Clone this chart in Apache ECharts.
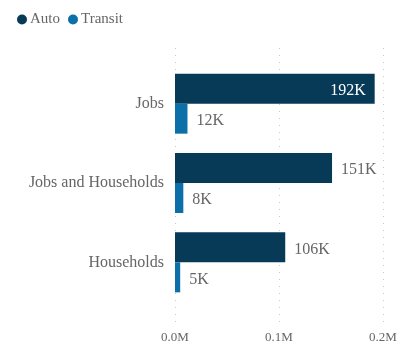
<!DOCTYPE html>
<html>
<head>
<meta charset="utf-8">
<script src="https://cdn.jsdelivr.net/npm/echarts@6/dist/echarts.min.js"></script>
<style>
  html, body { margin: 0; padding: 0; background: #fff; }
  #chart { width: 407px; height: 349px; }
</style>
</head>
<body>
<div id="chart"></div>
<script>
// Trips by access mode for each land-use type
const categories = ['Jobs', 'Jobs and Households', 'Households'];
const autoValues = [192000, 151000, 106000];
const transitValues = [12000, 8000, 5000];
const seriesNames = ['Auto', 'Transit'];
const xTicks = [0, 100000, 200000];

const FONT = "'Liberation Serif', 'Times New Roman', serif";
const TEXT = '#666';
const COLORS = ['#063A57', '#0B6FA8'];
const X_MAX = xTicks[xTicks.length - 1];

const fmtK = v => Math.round(v / 1000) + 'K';
const fmtM = v => (v / 1000000).toFixed(1) + 'M';

// Long bars keep their label inside the bar end
function toData(values) {
  return values.map(v => {
    if (v / X_MAX > 0.9) {
      return { value: v, label: { position: 'insideRight', color: '#fff', distance: 9 } };
    }
    return v;
  });
}

const labelStyle = {
  show: true,
  position: 'right',
  distance: 9,
  offset: [0, 2],
  fontFamily: FONT,
  fontSize: 16,
  color: TEXT,
  formatter: p => fmtK(p.value)
};

const chart = echarts.init(document.getElementById('chart'));
chart.setOption({
  animation: false,
  textStyle: { fontFamily: FONT },
  legend: {
    left: 12,
    top: 7,
    itemWidth: 10,
    itemHeight: 10,
    itemGap: 8,
    icon: 'circle',
    textStyle: { fontFamily: FONT, fontSize: 15, color: TEXT, padding: [0, 0, 0, -2] },
    data: seriesNames
  },
  grid: [
    // gridline frame (taller than the bar area)
    { left: 175, right: 24, top: 48, bottom: 24 },
    // bar area
    { left: 175, right: 24, top: 64, bottom: 47 }
  ],
  xAxis: [
    {
      gridIndex: 0,
      type: 'value',
      min: 0,
      max: X_MAX,
      interval: xTicks[1] - xTicks[0],
      axisLine: { show: false },
      axisTick: { show: false },
      axisLabel: { fontFamily: FONT, fontSize: 13, color: TEXT, margin: 6, formatter: fmtM },
      splitLine: { show: true, lineStyle: { color: '#c8c8c8', width: 1, type: [1, 6] } }
    },
    {
      gridIndex: 1,
      type: 'value',
      min: 0,
      max: X_MAX,
      show: false,
      splitLine: { show: false }
    }
  ],
  yAxis: [
    {
      gridIndex: 0,
      type: 'category',
      data: categories,
      show: false
    },
    {
      gridIndex: 1,
      type: 'category',
      data: categories,
      inverse: true,
      axisLine: { show: false },
      axisTick: { show: false },
      axisLabel: { fontFamily: FONT, fontSize: 16, color: TEXT, margin: 11 }
    }
  ],
  series: [
    {
      name: seriesNames[0],
      type: 'bar',
      xAxisIndex: 1,
      yAxisIndex: 1,
      barWidth: 30,
      barGap: '0%',
      itemStyle: { color: COLORS[0] },
      label: labelStyle,
      data: toData(autoValues)
    },
    {
      name: seriesNames[1],
      type: 'bar',
      xAxisIndex: 1,
      yAxisIndex: 1,
      barWidth: 30,
      barGap: '0%',
      itemStyle: { color: COLORS[1] },
      label: labelStyle,
      data: toData(transitValues)
    }
  ]
});
</script>
</body>
</html>
